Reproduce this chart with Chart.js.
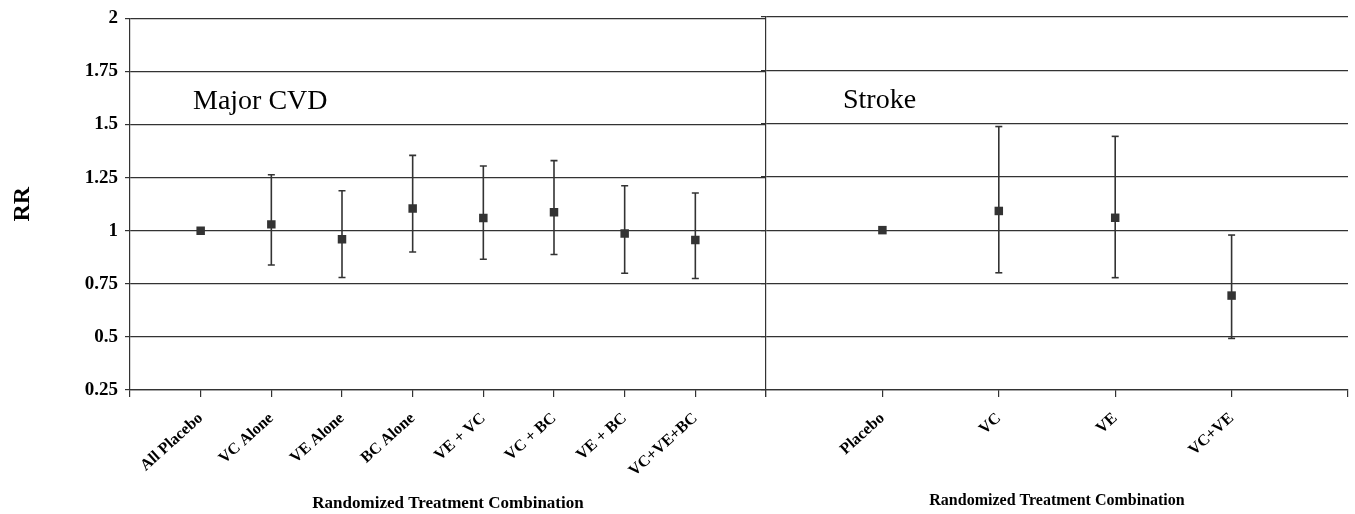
<!DOCTYPE html>
<html>
<head>
<meta charset="utf-8">
<script src="https://cdn.jsdelivr.net/npm/chart.js@4.4.0/dist/chart.umd.min.js"></script>
<style>
  html, body { margin: 0; padding: 0; background: #fff; }
  #wrap { position: relative; width: 1355px; height: 514px; overflow: hidden; }
  #cvd { position: absolute; left: 0; top: 0; }
  #stroke { position: absolute; left: 740px; top: 0; }
</style>
</head>
<body>
<div id="wrap">
  <canvas id="cvd" width="780" height="514"></canvas>
  <canvas id="stroke" width="615" height="514"></canvas>
</div>
<script>
// Major CVD panel
var cvdLabels = ["All Placebo", "VC Alone", "VE Alone", "BC Alone", "VE + VC", "VC + BC", "VE + BC", "VC+VE+BC"];
var cvdRR = [1.00, 1.03, 0.96, 1.105, 1.06, 1.087, 0.987, 0.956];
var cvdLow = [null, 0.839, 0.78, 0.90, 0.866, 0.888, 0.80, 0.775];
var cvdHigh = [null, 1.264, 1.188, 1.355, 1.305, 1.33, 1.212, 1.178];

// Stroke panel
var strokeLabels = ["Placebo", "VC", "VE", "VC+VE"];
var strokeRR = [1.00, 1.09, 1.058, 0.693];
var strokeLow = [null, 0.80, 0.777, 0.492];
var strokeHigh = [null, 1.486, 1.44, 0.977];

var yTicks = [0.25, 0.5, 0.75, 1, 1.25, 1.5, 1.75, 2];

var ink = "#333";
Chart.defaults.font.family = "'Liberation Serif', 'Times New Roman', serif";
Chart.defaults.color = "#000";

function markerPoints(vals) {
  return vals.map(function (v, i) { return { x: i + 1, y: v }; });
}

function barPoints(lo, hi) {
  var pts = [];
  for (var i = 0; i < lo.length; i++) {
    if (lo[i] === null) continue;
    pts.push({ x: i + 1, y: lo[i] }, { x: i + 1, y: hi[i] }, { x: i + 1, y: null });
  }
  return pts;
}

function capPoints(lo, hi) {
  var pts = [];
  for (var i = 0; i < lo.length; i++) {
    if (lo[i] === null) continue;
    pts.push({ x: i + 1, y: lo[i] }, { x: i + 1, y: hi[i] });
  }
  return pts;
}

var panelLabel = {
  id: "panelLabel",
  afterDraw: function (chart, args, opts) {
    var ctx = chart.ctx, a = chart.chartArea;
    ctx.save();
    ctx.font = "28px 'Liberation Serif', serif";
    ctx.fillStyle = "#000";
    ctx.textBaseline = "alphabetic";
    ctx.fillText(opts.text, a.left + opts.dx, a.top + opts.dy);
    ctx.restore();
  }
};

function makePanel(id, labels, rr, lo, hi, opt) {
  var ctx = document.getElementById(id).getContext("2d");
  return new Chart(ctx, {
    type: "scatter",
    data: {
      datasets: [
        {
          data: markerPoints(rr),
          pointStyle: "rect",
          pointRadius: 6,
          backgroundColor: ink,
          borderColor: ink,
          borderWidth: 0,
        },
        {
          data: capPoints(lo, hi),
          pointStyle: "line",
          pointRadius: 3.5,
          borderColor: ink,
          borderWidth: 1.6,
        },
        {
          data: barPoints(lo, hi),
          showLine: true,
          spanGaps: false,
          pointRadius: 0,
          borderColor: ink,
          borderWidth: 1.6,
        },
      ],
    },
    options: {
      responsive: false,
      animation: false,
      events: [],
      layout: { padding: { left: 0, top: 17, right: opt.padRight, bottom: 0 } },
      plugins: {
        legend: { display: false },
        tooltip: { enabled: false },
        panelLabel: { text: opt.name, dx: opt.dx, dy: 91 },
      },
      scales: {
        x: {
          type: "linear",
          min: 0,
          max: labels.length + 1,
          afterFit: function (s) {
            s.height = 124;
            s.paddingLeft = 0;
            s.paddingRight = 0;
          },
          afterBuildTicks: function (s) {
            var t = [];
            for (var i = 0; i <= labels.length + 1; i++) t.push({ value: i });
            s.ticks = t;
          },
          ticks: {
            autoSkip: false,
            minRotation: 42,
            maxRotation: 42,
            padding: 12,
            font: { size: 16, weight: "bold" },
            callback: function (v) { return labels[v - 1] || ""; },
          },
          grid: { drawOnChartArea: false, drawTicks: true, tickLength: 7, color: ink, lineWidth: 1.2 },
          border: { display: true, color: ink, width: 1.2 },
          title: {
            display: true,
            text: "Randomized Treatment Combination",
            font: { size: opt.titleSize, weight: "bold" },
            padding: { top: 0, bottom: opt.titleBottom },
          },
        },
        y: {
          min: 0.25,
          max: 2,
          afterFit: function (s) { s.width = opt.yWidth; },
          afterBuildTicks: function (s) {
            s.ticks = yTicks.map(function (v) { return { value: v }; });
          },
          ticks: {
            display: opt.showY,
            padding: 7,
            font: { size: 19, weight: "bold" },
            callback: function (v) { return String(v); },
          },
          grid: { color: ink, lineWidth: 1.2, tickLength: 5 },
          border: { display: true, color: ink, width: 1.2 },
          title: {
            display: opt.showY,
            text: "RR",
            font: { size: 24, weight: "bold" },
            padding: { top: 8, bottom: 0 },
          },
        },
      },
    },
    plugins: [panelLabel],
  });
}

makePanel("cvd", cvdLabels, cvdRR, cvdLow, cvdHigh,
  { name: "Major CVD", dx: 63, padRight: 14, yWidth: 130, showY: true, titleSize: 17, titleBottom: 0 });
makePanel("stroke", strokeLabels, strokeRR, strokeLow, strokeHigh,
  { name: "Stroke", dx: 77, padRight: 7, yWidth: 26, showY: false, titleSize: 16, titleBottom: 4 });
</script>
</body>
</html>
